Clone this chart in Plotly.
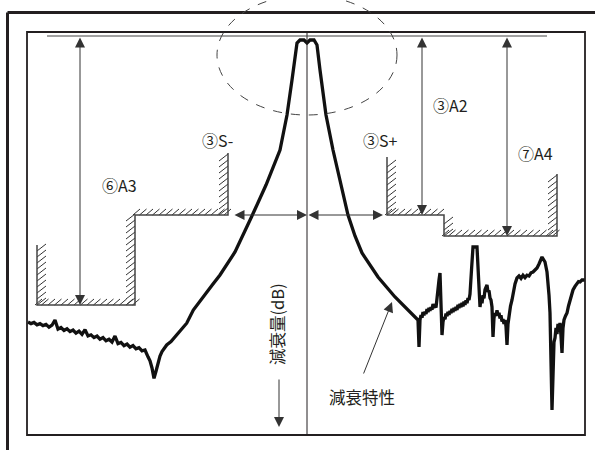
import plotly.graph_objects as go

# ---------------- data (relative frequency, attenuation dB) ----------------
freq = [
    # lower stopband (noisy)
    -27.9, -27.6, -27.3, -27.0, -26.7, -26.4, -26.1, -25.8, -25.5, -25.2,
    -24.9, -24.6, -24.3, -24.0, -23.7, -23.4, -23.1, -22.8, -22.5, -22.2,
    -21.9, -21.6, -21.3, -21.0, -20.7, -20.4, -20.1, -19.8, -19.5, -19.2,
    -18.9, -18.6, -18.3, -18.0, -17.7, -17.4, -17.1, -16.8, -16.5, -16.2,
    -15.9, -15.7, -15.5, -15.3, -15.1, -14.9, -14.7, -14.5, -14.03, -13.6,
    -13.03, -12.6, -12.03, -11.37, -10.7, -10.03, -9.4, -8.7,
    # skirts and passband
    -7.2, -5.6, -4.1, -2.7, -2.0, -1.5, -1.2, -1.0, -0.7, -0.3,
    0.0, 0.3, 0.7, 1.0, 1.3, 1.6, 1.9, 2.6, 3.4, 4.1,
    4.8, 5.5, 7.1, 8.8,
    # upper stopband (noisy, spurious)
    11.1, 11.2, 11.3, 11.4, 11.5, 11.6, 11.7, 11.8, 11.9, 12.0,
    12.1, 12.2, 12.3, 12.4, 12.5, 12.6, 12.7, 12.8, 12.9, 13.0,
    13.1, 13.2, 13.3, 13.4, 13.5, 13.6, 13.7, 13.8, 13.9, 14.0,
    14.1, 14.2, 14.3, 14.4, 14.5, 14.6, 14.7, 14.8, 14.9, 15.0,
    15.1, 15.2, 15.3, 15.4, 15.5, 15.6, 15.7, 15.8, 15.9, 16.0,
    16.1, 16.2, 16.3, 16.45, 16.6, 17.0, 17.2, 17.3, 17.4, 17.5,
    17.6, 17.7, 17.8, 18.0, 18.1, 18.2, 18.3, 18.4, 18.5, 18.6,
    18.7, 18.8, 18.9, 19.0, 19.1, 19.2, 19.3, 19.4, 19.5, 19.6,
    19.7, 19.8, 19.9, 20.0, 20.1, 20.2, 20.35, 20.5, 20.65, 20.8,
    21.0, 21.2, 21.4, 21.6, 21.8, 22.0, 22.2, 22.4, 22.6, 22.8,
    23.0, 23.2, 23.5, 23.8, 24.0, 24.2, 24.3, 24.5, 24.6, 24.7,
    24.8, 24.9, 25.0, 25.1, 25.2, 25.3, 25.4, 25.5, 25.6, 25.7,
    25.85, 26.0, 26.15, 26.3, 26.45, 26.6, 26.8, 27.0, 27.15, 27.3,
    27.5, 27.8]
atten = [
    71.5, 71.9, 71.6, 72.2, 71.9, 72.4, 72.1, 72.8, 72.3, 71.0,
    73.3, 72.9, 73.6, 73.2, 73.9, 73.5, 74.3, 73.8, 74.6, 73.4,
    75.0, 74.7, 75.4, 75.0, 75.8, 75.4, 76.2, 75.8, 76.5, 75.0,
    76.9, 76.6, 77.4, 77.0, 77.8, 77.4, 78.2, 77.9, 78.7, 78.5,
    80.2, 81.2, 83.0, 85.6, 83.8, 81.6, 80.0, 78.9, 77.25, 76.4,
    74.75, 73.6, 71.8, 68.5, 66.4, 64.3, 62.0, 59.75,
    54.0, 45.5, 37.25, 28.5, 19.75, 11.0, 4.75, 1.75, 1.0, 1.0,
    1.75, 1.0, 1.0, 2.25, 8.5, 14.75, 19.75, 28.5, 37.25, 44.75,
    50.0, 54.25, 60.25, 65.25,
    71.0, 77.75, 71.0, 69.8, 70.4, 69.0, 69.8, 68.9, 69.5, 68.3,
    69.0, 68.0, 68.7, 67.8, 68.4, 67.0, 68.0, 67.3, 67.9, 65.0,
    63.0, 61.0, 59.25, 66.0, 74.75, 71.5, 70.3, 70.8, 69.4, 70.0,
    69.0, 69.7, 68.7, 69.3, 68.2, 69.0, 68.0, 68.7, 67.7, 68.5,
    67.2, 68.0, 67.0, 67.8, 66.7, 67.6, 66.4, 67.2, 66.1, 66.8,
    65.5, 66.0, 64.5, 58.5, 52.75, 52.75, 61.0, 67.75, 65.6, 66.8,
    64.8, 65.6, 63.4, 62.25, 64.0, 63.6, 65.5, 66.0, 67.75, 75.25,
    70.5, 69.3, 70.0, 68.6, 69.8, 69.2, 70.6, 69.8, 71.4, 70.8,
    72.0, 71.0, 72.6, 77.25, 72.0, 70.0, 67.5, 66.0, 63.5, 62.0,
    60.5, 60.0, 60.6, 59.8, 60.4, 59.8, 60.0, 59.2, 59.0, 58.4,
    58.0, 57.0, 55.25, 56.5, 59.0, 64.75, 69.25, 93.5, 81.0, 76.5,
    75.5, 73.0, 74.5, 72.0, 73.0, 71.75, 75.0, 79.25, 73.0, 71.0,
    70.0, 69.25, 67.5, 66.0, 64.5, 63.5, 62.6, 62.0, 61.4, 61.5,
    61.0, 61.0]

# attenuation mask (spec limits)
left_mask_f = [-27.0, -27.0, -17.2, -17.2, -7.9, -7.9]
left_mask_a = [52.25, 67.25, 67.25, 44.75, 44.75, 29.25]
left_hatch = ["right", "up", "left", "up", "left"]
right_mask_f = [8.0, 8.0, 13.7, 13.7, 25.0, 25.0]
right_mask_a = [30.25, 44.75, 44.75, 50.0, 50.0, 34.5]
right_hatch = ["right", "up", "right", "up", "left"]

A3, A2, A4 = 67.25, 44.75, 50.0
S_minus, S_plus = -7.4, 7.6
S_level = 44.75

labels = ["③S-", "⑥A3", "③A2", "③S+", "⑦A4"]

# ---------------- figure ----------------
X_RANGE = [-30.7, 28.8]
Y_RANGE = [103.5, -9.0]
PX_X = (X_RANGE[1] - X_RANGE[0]) / 595.0
PX_Y = (Y_RANGE[0] - Y_RANGE[1]) / 450.0

FONT = "Noto Sans CJK JP, Noto Sans, sans-serif"
INK = "#231f20"

fig = go.Figure()


def hatch_segments(fs, as_, sides):
    hx, hy = [], []
    for i, side in enumerate(sides):
        f0, a0, f1, a1 = fs[i], as_[i], fs[i + 1], as_[i + 1]
        if side == "up":
            lo, hi = min(f0, f1), max(f0, f1)
            step = 6.5 * PX_X
            f = lo - 2 * PX_X
            while f < hi - 1 * PX_X:
                hx += [f, f + 7 * PX_X, None]
                hy += [a0, a0 - 6 * PX_Y, None]
                f += step
        else:
            top, bot = min(a0, a1), max(a0, a1)
            step = 6 * PX_Y
            a = bot
            while a > top + 5 * PX_Y:
                if side == "right":
                    hx += [f0, f0 + 9 * PX_X, None]
                else:
                    hx += [f0 - 9 * PX_X, f0, None]
                hy += [a, a - 7 * PX_Y, None]
                a -= step
    return hx, hy


for mf, ma, sides in [(left_mask_f, left_mask_a, left_hatch),
                      (right_mask_f, right_mask_a, right_hatch)]:
    hx, hy = hatch_segments(mf, ma, sides)
    fig.add_trace(go.Scatter(x=hx, y=hy, mode="lines",
                             line=dict(color="#333", width=1), hoverinfo="skip"))
    fig.add_trace(go.Scatter(x=mf, y=ma, mode="lines",
                             line=dict(color="#444", width=1.5), hoverinfo="skip"))

# attenuation characteristic
fig.add_trace(go.Scatter(x=freq, y=atten, mode="lines",
                         line=dict(color="#111", width=3.3), hoverinfo="skip"))

shapes = [
    # outer frame (top & left)
    dict(type="line", xref="paper", yref="paper", x0=7.5 / 595, x1=1.0,
         y0=1 - 12.5 / 450, y1=1 - 12.5 / 450, line=dict(color=INK, width=3)),
    dict(type="line", xref="paper", yref="paper", x0=7.5 / 595, x1=7.5 / 595,
         y0=0, y1=1 - 12.5 / 450, line=dict(color=INK, width=3)),
    # inner frame
    dict(type="rect", xref="x", yref="y", x0=-28.0, x1=27.8, y0=-1.0, y1=99.75,
         line=dict(color=INK, width=1.8)),
    # center frequency line
    dict(type="line", xref="x", yref="y", x0=0, x1=0, y0=-1.0, y1=99.75,
         line=dict(color=INK, width=1)),
    # reference (0 dB) line
    dict(type="line", xref="x", yref="y", x0=-26.0, x1=24.0, y0=0, y1=0,
         line=dict(color="#444", width=1)),
    # dashed ellipse around passband
    dict(type="circle", xref="x", yref="y", x0=-9.0, x1=9.0, y0=-10.25, y1=19.75,
         line=dict(color="#444", width=1, dash="dash")),
]

ann = []


def arrow(x, y, ax, ay, both=False, color="#333"):
    d = dict(x=x, y=y, ax=ax, ay=ay, xref="x", yref="y", axref="x", ayref="y",
             text="", showarrow=True, arrowhead=2, arrowsize=2, arrowwidth=1,
             arrowcolor=color, standoff=0, startstandoff=0)
    if both:
        d.update(arrowside="end+start", startarrowhead=2, startarrowsize=2)
    ann.append(d)


# A3, A2, A4 double arrows
arrow(-22.7, A3, -22.7, 0.0, both=True)
arrow(11.5, A2, 11.5, 0.0, both=True)
arrow(20.0, A4, 20.0, 0.0, both=True)
# S-, S+ double arrows
arrow(0.0, S_level, S_minus, S_level, both=True)
arrow(S_plus, S_level, 0.0, S_level, both=True)
# attenuation direction arrow
arrow(-2.8, 97.75, -2.8, 85.5)
# pointer to curve
arrow(8.5, 66.5, 5.6, 84.75)

label_pos = [(-9.0, 26.0), (-18.8, 37.25), (14.3, 17.25), (7.3, 26.0), (22.8, 29.25)]
for t, (lx, ly) in zip(labels, label_pos):
    ann.append(dict(x=lx, y=ly, xref="x", yref="y", text=t, showarrow=False,
                    font=dict(family=FONT, size=16, color=INK)))

ann.append(dict(x=5.5, y=90.25, xref="x", yref="y", text="減衰特性", showarrow=False,
                font=dict(family=FONT, size=16.5, color=INK)))
ann.append(dict(x=-3.0, y=72.0, xref="x", yref="y", text="減衰量(dB)", showarrow=False,
                textangle=-90, font=dict(family=FONT, size=16.5, color=INK)))

fig.update_layout(
    width=595, height=450,
    margin=dict(l=0, r=0, t=0, b=0),
    paper_bgcolor="white", plot_bgcolor="white",
    showlegend=False,
    xaxis=dict(range=X_RANGE, visible=False, showgrid=False, zeroline=False, fixedrange=True),
    yaxis=dict(range=Y_RANGE, visible=False, showgrid=False, zeroline=False, fixedrange=True),
    shapes=shapes,
    annotations=ann,
)

fig.write_html("out.html", config={"displayModeBar": False},
               post_script="document.body.style.margin='0';document.body.style.overflow='hidden';")
